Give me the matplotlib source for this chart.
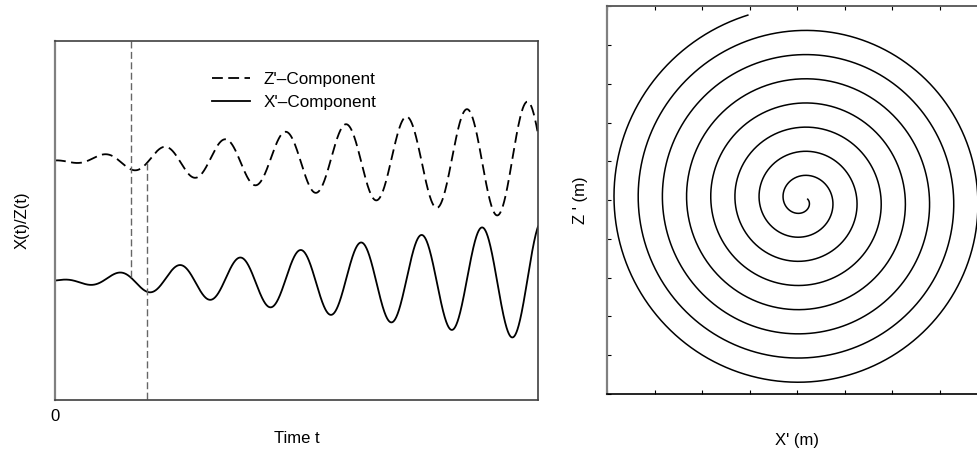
import numpy as np
import matplotlib
matplotlib.use("Agg")
import matplotlib.pyplot as plt

plt.rcParams['font.family'] = ['Liberation Sans', 'DejaVu Sans']

# Linkes Bild: zwei Schwingungen mit linear wachsender Amplitude (Werte aus dem Bild gelesen)
t_max = 483.0                 # Laenge der Zeitachse
y_max = 360.0                 # Hoehe der y-Achse
periode = 60.5                # Periodendauer
wachstum = 0.1245             # Amplitudenzuwachs pro Zeiteinheit
mitte_x = 120.0               # Ruhelage X'-Komponente
mitte_z = 240.2               # Ruhelage Z'-Komponente
phase_x = 1.22                # Phase X'
phase_z = 1.22 + np.pi / 2    # Phase Z' (eilt um 90 Grad voraus)
marke_z = 76.3                # senkrechte Hilfslinie am Z'-Minimum
marke_x = 91.8                # senkrechte Hilfslinie am X'-Minimum

# Rechtes Bild: archimedische Spirale
achse_x = 380.0
achse_y = 387.5
mitte_spirale = (195.0, 193.5)
steigung = 24.2               # Abstand zweier Windungen
phi_start = 1.5
phi_ende = 50.1
winkel_0 = 1.69
tick_x = 47.5
tick_y = 38.75


def schwingung(t, mitte, phase):
    return mitte + wachstum * t * np.sin(2 * np.pi * t / periode + phase)


fig = plt.figure(figsize=(9.78, 4.51), dpi=100)

# ---- linkes Diagramm ----
ax1 = fig.add_axes([0.0562, 0.112, 0.4939, 0.7978])
t = np.linspace(0, t_max, 2000)
z = schwingung(t, mitte_z, phase_z)
x = schwingung(t, mitte_x, phase_x)
ax1.plot(t, z, color='black', lw=1.3, linestyle=(0, (6, 3)), label="Z'\u2013Component")
ax1.plot(t, x, color='black', lw=1.3, label="X'\u2013Component")

# Hilfslinien
ax1.plot([marke_z, marke_z], [y_max, schwingung(marke_z, mitte_x, phase_x)],
         color='#666666', lw=1.0, linestyle=(0, (5, 2.5)))
ax1.plot([marke_x, marke_x], [schwingung(marke_x, mitte_z, phase_z), 0],
         color='#666666', lw=1.0, linestyle=(0, (5, 2.5)))

ax1.set_xlim(0, t_max)
ax1.set_ylim(0, y_max)
ax1.set_xticks([0])
ax1.set_xticklabels(['0'])
ax1.set_yticks([])
ax1.tick_params(axis='x', length=0, pad=6, labelsize=12)
ax1.set_xlabel('Time t', fontsize=12, labelpad=5)
ax1.set_ylabel('X(t)/Z(t)', fontsize=12, labelpad=18)
for seite in ['top', 'right', 'bottom']:
    ax1.spines[seite].set_color('#404040')
    ax1.spines[seite].set_linewidth(1.2)
ax1.spines['left'].set_color('#808080')
ax1.spines['left'].set_linewidth(1.6)

ax1.legend(loc='upper left', bbox_to_anchor=(0.325, 0.912), frameon=False,
           fontsize=12.3, handlelength=2.2, handletextpad=0.8, labelspacing=0.42,
           borderpad=0, borderaxespad=0)

# ---- rechtes Diagramm ----
ax2 = fig.add_axes([0.6207, 0.127, 0.3885, 0.859])
phi = np.linspace(phi_start, phi_ende, 4000)
r = steigung / (2 * np.pi) * phi
winkel = winkel_0 - phi
ax2.plot(mitte_spirale[0] + r * np.cos(winkel), mitte_spirale[1] + r * np.sin(winkel),
         color='black', lw=1.1)

ax2.set_xlim(0, achse_x)
ax2.set_ylim(0, achse_y)
ax2.set_xticks(np.arange(0, achse_x + 1, tick_x))
ax2.set_yticks(np.arange(0, achse_y + 1, tick_y))
ax2.tick_params(direction='in', length=3, labelbottom=False, labelleft=False,
                top=True, right=True)
ax2.set_xlabel("X' (m)", fontsize=12, labelpad=28)
ax2.set_ylabel("Z ' (m)", fontsize=12, labelpad=14)
ax2.spines['left'].set_color('#808080')
ax2.spines['left'].set_linewidth(1.6)
ax2.spines['top'].set_color('#606060')
ax2.spines['top'].set_linewidth(1.4)
ax2.spines['bottom'].set_color('black')
ax2.spines['bottom'].set_linewidth(1.2)

fig.savefig('out.png', dpi=100)
